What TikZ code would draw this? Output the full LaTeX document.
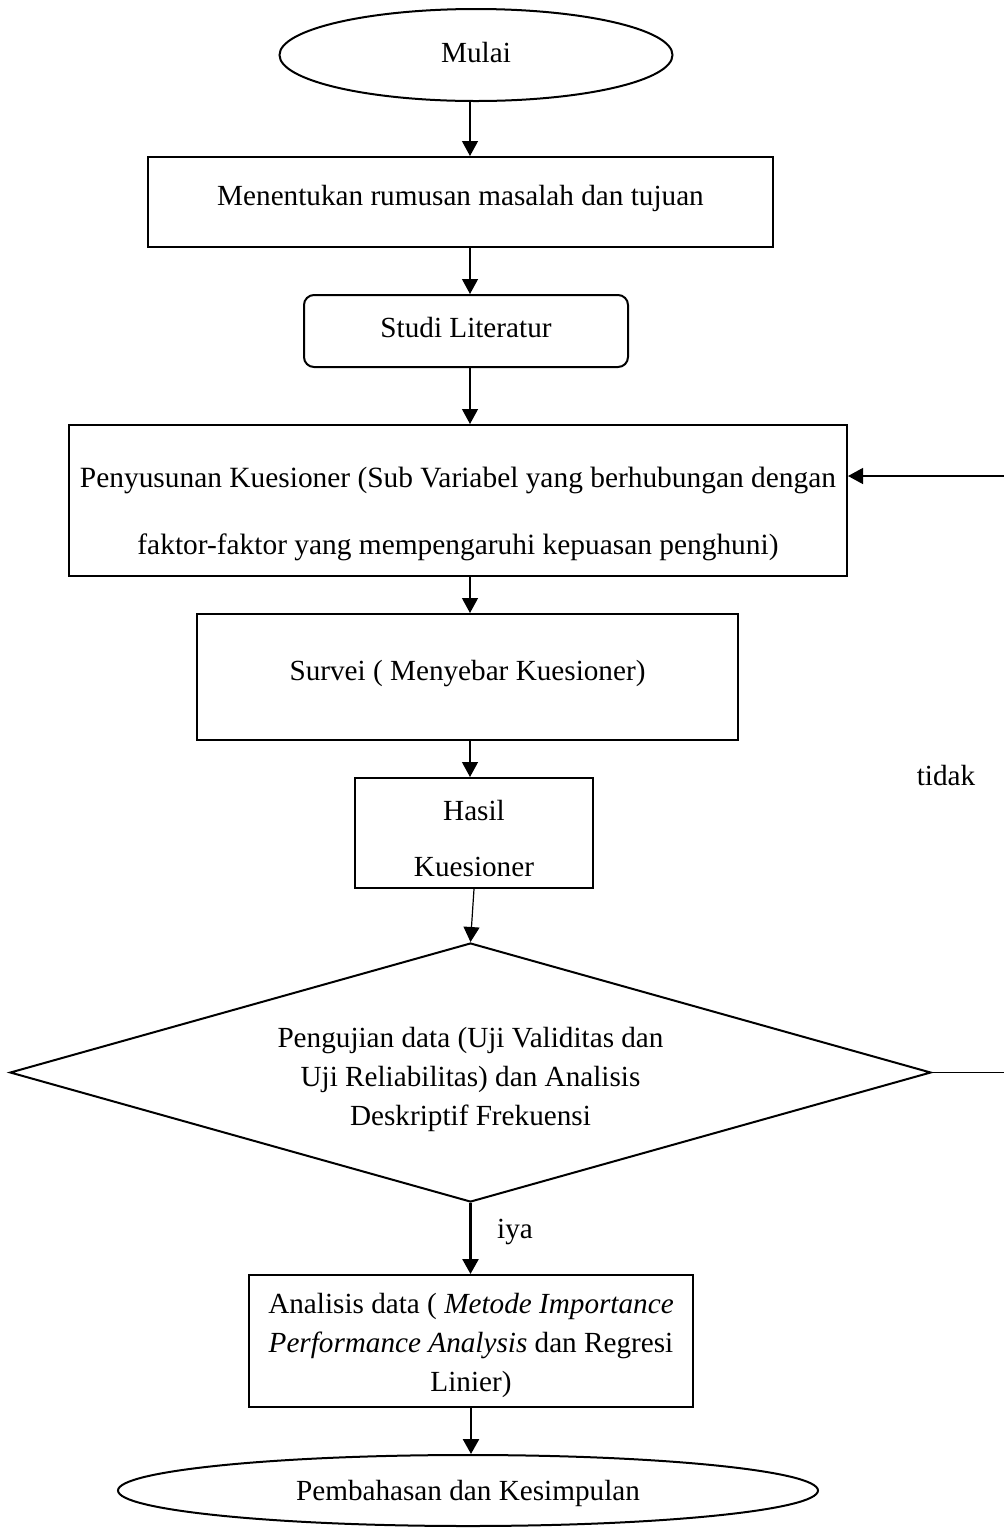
\documentclass[tikz,border=0pt]{standalone}
\usepackage{fontspec}
\setmainfont{Liberation Serif}
\usetikzlibrary{shapes.geometric,arrows.meta}
\begin{document}
\begin{tikzpicture}[x=0.5pt,y=-0.5pt,
 every node/.style={font=\fontsize{14.6}{19.5}\selectfont},
 box/.style={draw,line width=1pt,inner sep=0pt,align=center},
 txt/.style={align=center,inner sep=0pt},
 thinarrow/.style={line width=0.6pt,-{Triangle[width=8pt,length=7.5pt]}},
 thickarrow/.style={line width=1.3pt,-{Triangle[width=8pt,length=7.5pt]}},
 thinline/.style={line width=0.6pt},
]
\useasboundingbox (0,0) rectangle (1003,1533);
\coordinate (ax) at (470,0);
\node[box,ellipse,minimum width=196.5pt,minimum height=46pt] (start) at (476,55) {};
\node[txt,yshift=1pt] (starttxt) at (start.center) {Mulai};
\node[box,minimum width=312.5pt,minimum height=45pt] (rum) at (460.5,202) {};
\node[txt,yshift=2pt] (rumtxt) at (rum.center) {Menentukan rumusan masalah dan tujuan};
\node[box,rounded corners=5pt,minimum width=162pt,minimum height=36pt] (lit) at (466,331) {};
\node[txt,yshift=1.5pt] (littxt) at (lit.center) {Studi Literatur};
\node[box,minimum width=389pt,minimum height=75.5pt] (pen) at (458,500.5) {};
\node[txt,font=\fontsize{14.7}{33.5}\selectfont,yshift=-6.5pt] (pentxt) at (pen.center) {Penyusunan Kuesioner (Sub Variabel yang berhubungan dengan\\faktor-faktor yang mempengaruhi kepuasan penghuni)};
\node[box,minimum width=270.5pt,minimum height=63pt] (sur) at (467.5,677) {};
\node[txt,yshift=1.5pt] (surtxt) at (sur.center) {Survei ( Menyebar Kuesioner)};
\node[box,minimum width=119pt,minimum height=55pt] (has) at (474,833) {};
\node[txt,font=\fontsize{14.6}{28}\selectfont,yshift=-2.5pt] (hastxt) at (has.center) {Hasil\\Kuesioner};
\node[box,diamond,aspect=3.56,minimum width=460.5pt,minimum height=129.5pt] (uji) at (470.5,1072.5) {};
\node[txt,yshift=-3.5pt] (ujitxt) at (uji.center) {Pengujian data (Uji Validitas dan\\Uji Reliabilitas) dan Analisis\\Deskriptif Frekuensi};
\node[box,minimum width=222pt,minimum height=66pt] (ana) at (471,1341) {};
\node[txt,yshift=-2pt] (anatxt) at (ana.center) {Analisis data ( \textit{Metode Importance}\\\textit{Performance Analysis} dan Regresi\\Linier)};
\node[box,ellipse,minimum width=350pt,minimum height=35.5pt] (end) at (468,1490.5) {};
\node[txt,yshift=-1.5pt] (endtxt) at (end.center) {Pembahasan dan Kesimpulan};
\node (tidak) at (946,775) {tidak};
\node (iya) at (515,1232) {iya};
\draw[thinarrow] (start.south -| ax) -- (rum.north -| ax);
\draw[thinarrow] (rum.south -| ax) -- (lit.north -| ax);
\draw[thinarrow] (lit.south -| ax) -- (pen.north -| ax);
\draw[thinarrow] (pen.south -| ax) -- (sur.north -| ax);
\draw[thinarrow] (sur.south -| ax) -- (has.north -| ax);
\draw[thinarrow] (has.south) -- (uji.north);
\draw[thickarrow] (uji.south) -- (uji.south |- ana.north);
\draw[thickarrow] (ana.south) -- (ana.south |- end.north);
\coordinate (rb) at (1010,1072.5);
\coordinate (rt) at (1010,476);
\draw[thinline] (uji.east) -- (rb) -- (rt);
\draw[thinarrow] (rt) -- (rt -| pen.east);
\end{tikzpicture}
\end{document}
